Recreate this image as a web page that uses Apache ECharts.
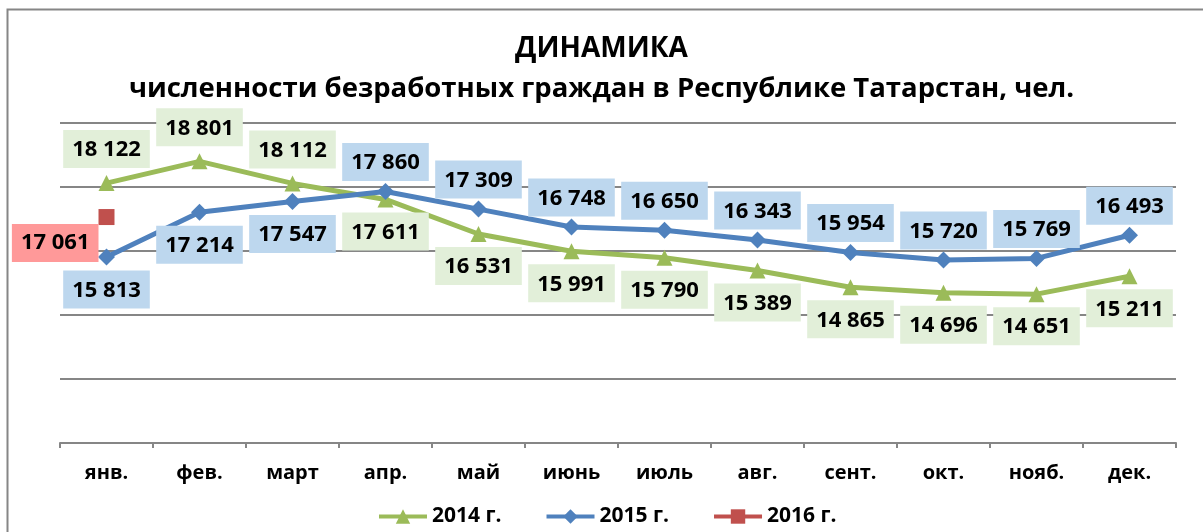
<!DOCTYPE html>
<html>
<head>
<meta charset="utf-8">
<script src="https://cdn.jsdelivr.net/npm/echarts@6/dist/echarts.min.js"></script>
<style>
html,body{margin:0;padding:0;background:#fff;}
#c{width:1203px;height:532px;}
</style>
</head>
<body>
<div id="c"></div>
<script>
const categories = ['янв.', 'фев.', 'март', 'апр.', 'май', 'июнь', 'июль', 'авг.', 'сент.', 'окт.', 'нояб.', 'дек.'];
const values2014 = [18122, 18801, 18112, 17611, 16531, 15991, 15790, 15389, 14865, 14696, 14651, 15211];
const values2015 = [15813, 17214, 17547, 17860, 17309, 16748, 16650, 16343, 15954, 15720, 15769, 16493];
const values2016 = [17061, null, null, null, null, null, null, null, null, null, null, null];
const seriesNames = ['2014 г.', '2015 г.', '2016 г.'];
const titleMain = 'ДИНАМИКА';
const titleSub = 'численности безработных граждан в Республике Татарстан, чел.';

// label placement (layout only)
const pos2014 = ['top','top','top','bottom','bottom','bottom','bottom','bottom','bottom','bottom','bottom','bottom'];
const pos2015 = ['bottom','bottom','bottom','top','top','top','top','top','top','top','top','top'];

const FONT = '"Open Sans", "Liberation Sans", Arial, sans-serif';
function fmt(v){ return String(v).replace(/\B(?=(\d{3})+(?!\d))/g, ' '); }

function labelCfg(bg){
  return {
    show: true,
    fontFamily: FONT, fontWeight: 'bold', fontSize: 22, color: '#000',
    backgroundColor: bg, padding: [8, 9, 6, 9], lineHeight: 24,
    formatter: p => fmt(p.value)
  };
}
function build(vals, pos, bg, topDist, botDist){
  return vals.map((v, i) => ({
    value: v,
    label: Object.assign(labelCfg(bg), { position: pos[i], distance: pos[i] === 'top' ? topDist : botDist })
  }));
}

const chart = echarts.init(document.getElementById('c'));
chart.setOption({
  animation: false,
  backgroundColor: '#fff',
  graphic: [{
    type: 'rect', shape: { x: 7.5, y: 9.5, width: 1300, height: 600 },
    style: { fill: 'none', stroke: '#868686', lineWidth: 2 }, silent: true
  }],
  title: [{
    text: titleMain, left: 'center', top: 30,
    textStyle: { fontFamily: FONT, fontWeight: 'bold', fontSize: 28, color: '#000' }
  }, {
    text: titleSub, left: 'center', top: 70,
    textStyle: { fontFamily: FONT, fontWeight: 'bold', fontSize: 27.5, color: '#000' }
  }],
  grid: { left: 60, right: 27, top: 123, bottom: 89, containLabel: false },
  xAxis: {
    type: 'category', data: categories, boundaryGap: true,
    axisLine: { lineStyle: { color: '#868686', width: 2 } },
    axisTick: { show: true, length: 5, lineStyle: { color: '#868686', width: 2 } },
    axisLabel: { fontFamily: FONT, fontWeight: 'bold', fontSize: 20, color: '#000', margin: 20 }
  },
  yAxis: {
    type: 'value', min: 10000, max: 20000, interval: 2000,
    axisLine: { show: false }, axisTick: { show: false }, axisLabel: { show: false },
    splitLine: { lineStyle: { color: '#868686', width: 2 } }
  },
  legend: {
    bottom: 0, left: 372, itemGap: 43, itemWidth: 48, itemHeight: 18,
    lineStyle: { width: 4 },
    textStyle: { fontFamily: FONT, fontWeight: 'bold', fontSize: 21, color: '#000' },
    data: seriesNames
  },
  series: [{
    name: seriesNames[0], type: 'line', data: build(values2014, pos2014, '#e2efd9', 7, 5),
    color: '#9bbb59', lineStyle: { width: 5 }, symbol: 'triangle', symbolSize: 16,
    itemStyle: { color: '#9bbb59' }, z: 3
  }, {
    name: seriesNames[1], type: 'line', data: build(values2015, pos2015, '#bdd7ee', 2, 5),
    color: '#4f81bd', lineStyle: { width: 5 }, symbol: 'diamond', symbolSize: 17,
    itemStyle: { color: '#4f81bd' }, z: 4
  }, {
    name: seriesNames[2], type: 'line',
    data: values2016.map(v => v == null ? null : ({ value: v, label: Object.assign(labelCfg('#ff9999'), { position: 'left', distance: 0, offset: [0, 26] }) })),
    color: '#c0504d', lineStyle: { width: 5 }, symbol: 'rect', symbolSize: 16,
    itemStyle: { color: '#c0504d' }, z: 5
  }]
});
</script>
</body>
</html>
